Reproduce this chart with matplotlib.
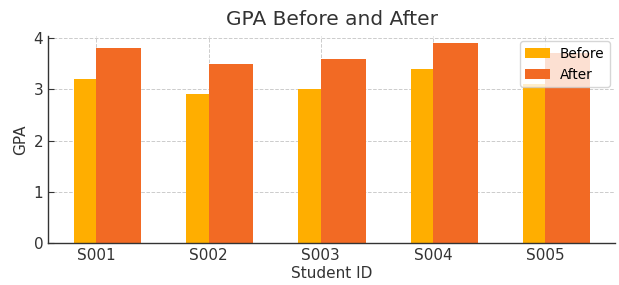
import matplotlib
matplotlib.use("Agg")
import matplotlib.pyplot as plt
import numpy as np

students = ["S001", "S002", "S003", "S004", "S005"]
gpa_before = [3.2, 2.9, 3.0, 3.4, 3.1]
gpa_after = [3.8, 3.5, 3.6, 3.9, 3.7]

plt.rcParams['font.family'] = ['DejaVu Sans']
fig = plt.figure(figsize=(6.19, 2.85), dpi=100)
ax = fig.add_axes([48/619, 42/285, 567/619, 207/285])

x = np.arange(len(students))
w = 0.4
ax.bar(x, gpa_before, w, color="#FFAE00", label="Before", zorder=2)
ax.bar(x, gpa_after, w, align="edge", color="#F26A24", label="After", zorder=2)

ax.set_xlim(-0.43, 4.62)
ax.set_ylim(0, 4.04)
ax.set_xticks(x)
ax.set_xticklabels(students)
ax.set_yticks([0, 1, 2, 3, 4])
ax.grid(True, linestyle="--", color="#cccccc", linewidth=0.7, zorder=0)
ax.set_axisbelow(True)
for s in ["top", "right"]:
    ax.spines[s].set_visible(False)
for s in ["left", "bottom"]:
    ax.spines[s].set_color("#333333")
    ax.spines[s].set_linewidth(1.0)
ax.tick_params(direction="in", colors="#333333", labelsize=11, length=4)
ax.set_title("GPA Before and After", fontsize=14.5, color="#333333", pad=8)
ax.set_xlabel("Student ID", fontsize=11, color="#333333", labelpad=2)
ax.set_ylabel("GPA", fontsize=11, color="#333333")
ax.legend(loc="upper right", fontsize=9.8, framealpha=0.8, edgecolor="#cccccc",
          borderaxespad=0.4, handlelength=1.8, handletextpad=0.7)

fig.savefig("out.png", dpi=100)
